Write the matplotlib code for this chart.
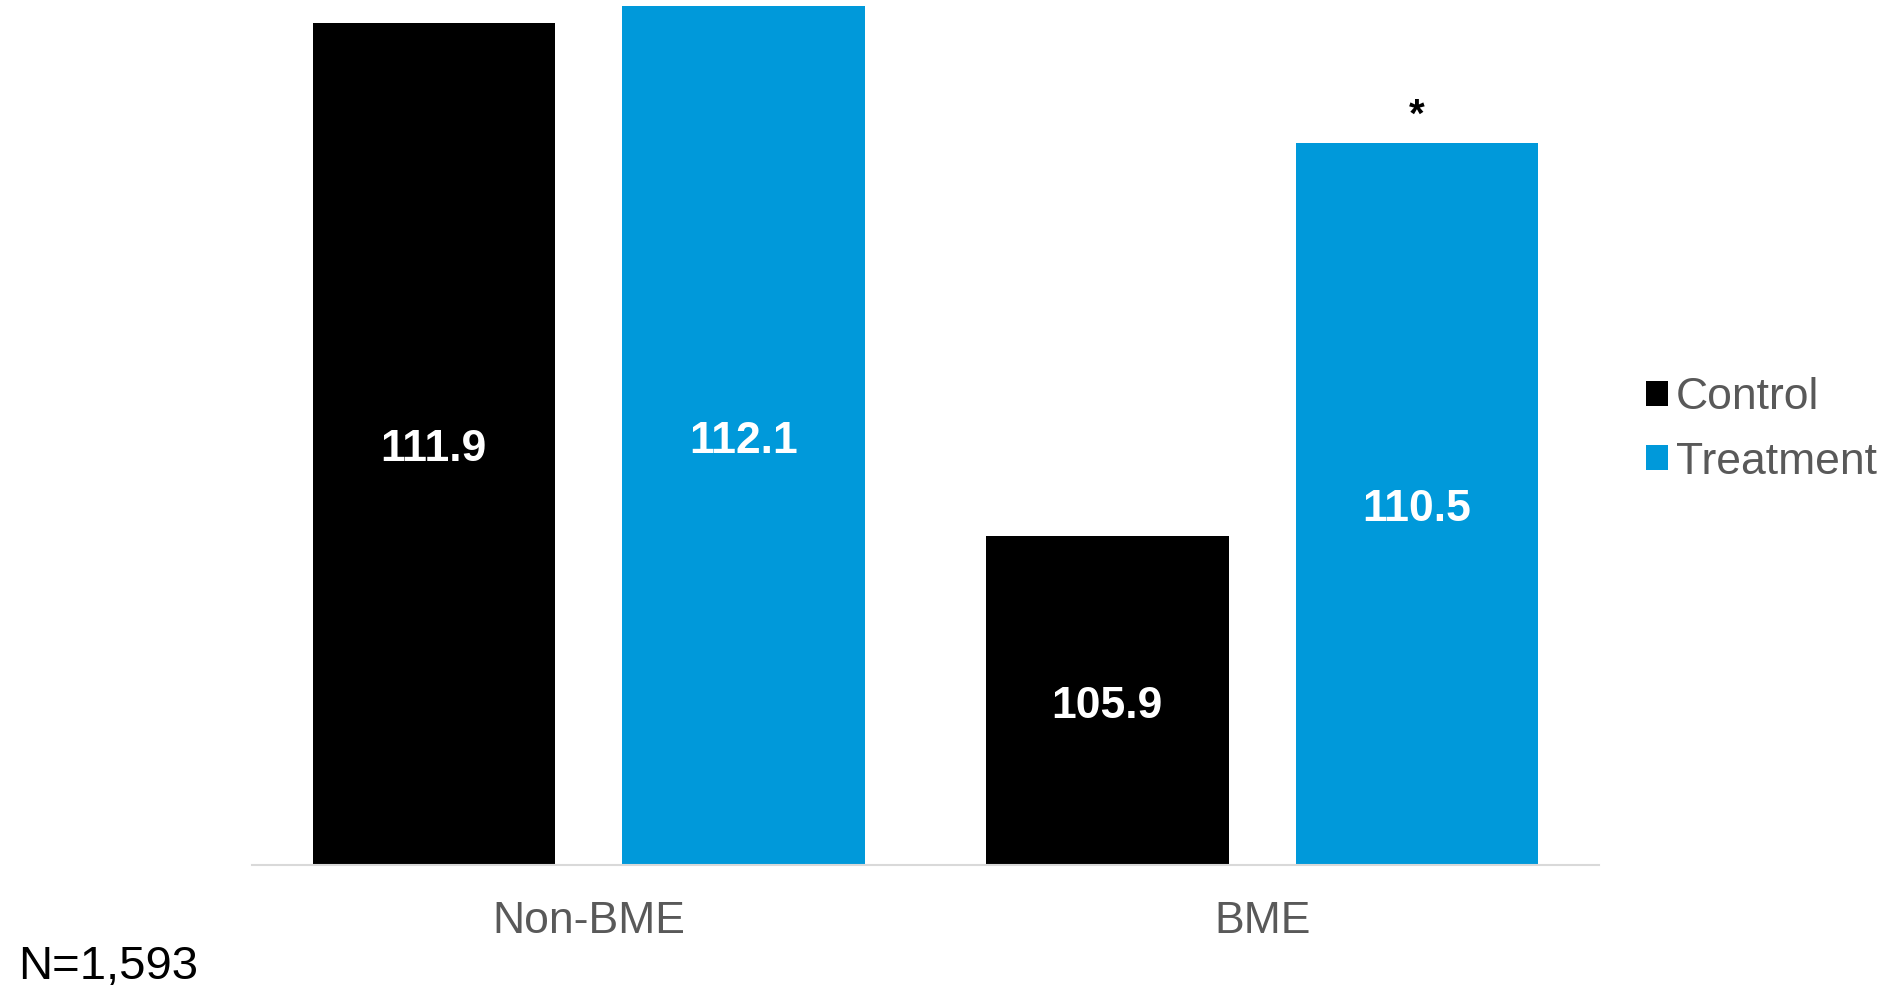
import matplotlib
matplotlib.use('Agg')
import matplotlib.pyplot as plt
import numpy as np

plt.rcParams['font.family'] = ['Liberation Sans', 'DejaVu Sans']

groups = ['Non-BME', 'BME']
control = [111.9, 105.9]
treatment = [112.1, 110.5]
series_names = ['Control', 'Treatment']
significant = [False, True]  # asterisk over treatment bar

BLACK = '#000000'
BLUE = '#0099da'
GREY = '#595959'

fig = plt.figure(figsize=(18.8, 9.92), dpi=100)
ax = fig.add_axes([0.134, 0.128, 0.7165, 0.872])

x = np.arange(len(groups))
w = 0.36
off = 0.23
b1 = ax.bar(x - off, control, w, color=BLACK, label=series_names[0])
b2 = ax.bar(x + off, treatment, w, color=BLUE, label=series_names[1])

ymin, ymax = 102.05, 112.17
ax.set_ylim(ymin, ymax)
ax.set_xlim(-0.5, 1.5)

# value labels centred in bars
for bars, vals in [(b1, control), (b2, treatment)]:
    for rect, v in zip(bars, vals):
        ax.annotate(f'{v:.1f}', (rect.get_x() + rect.get_width() / 2, (ymin + v) / 2),
                    xytext=(0, -4), textcoords='offset points',
                    ha='center', va='center', color='white', fontsize=32, fontweight='bold')

for rect, v, sig in zip(b2, treatment, significant):
    if sig:
        ax.annotate('*', (rect.get_x() + rect.get_width() / 2, v), xytext=(0, 6),
                    textcoords='offset points', ha='center', va='bottom',
                    fontsize=29, fontweight='bold', color=BLACK)

for s in ['top', 'right', 'left']:
    ax.spines[s].set_visible(False)
ax.spines['bottom'].set_color('#d9d9d9')
ax.spines['bottom'].set_linewidth(1.5)
ax.set_yticks([])
ax.set_xticks(x)
ax.set_xticklabels(groups, fontsize=32, color=GREY)
ax.tick_params(axis='x', length=0, pad=26)

leg = fig.legend(handles=[b1, b2], loc='center left', bbox_to_anchor=(1646 / 1880, 1 - 430 / 992),
                 frameon=False, fontsize=32, handlelength=0.5, handleheight=0.5,
                 handletextpad=0.18, labelspacing=0.52, borderpad=0, borderaxespad=0)
for t in leg.get_texts():
    t.set_color(GREY)

fig.text(18 / 1880, 1 - 967 / 992, 'N=1,593', fontsize=34, color=BLACK, ha='left', va='center')

fig.savefig('out.png', dpi=100)
